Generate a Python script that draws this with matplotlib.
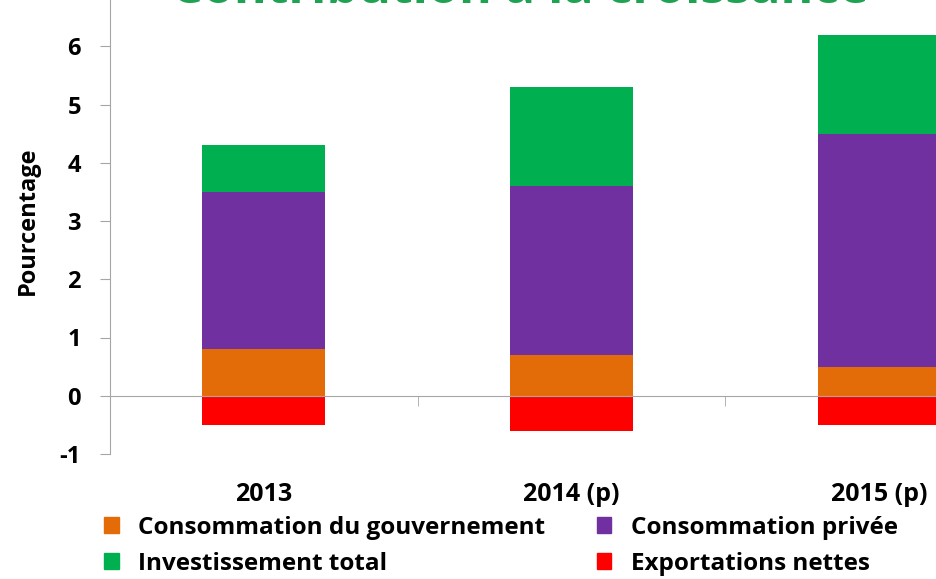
import matplotlib.pyplot as plt
from matplotlib.patches import Patch
import numpy as np

years = ['2013', '2014 (p)', '2015 (p)']
gouvernement = [0.8, 0.7, 0.5]
privee = [2.7, 2.9, 4.0]
investissement = [0.8, 1.7, 1.7]
exportations = [-0.5, -0.6, -0.5]

c_gov = '#E36C09'
c_priv = '#7030A0'
c_inv = '#00B050'
c_exp = '#FF0000'

plt.rcParams['font.family'] = ['Open Sans', 'DejaVu Sans']
plt.rcParams['font.weight'] = 'bold'
plt.rcParams['axes.unicode_minus'] = False

fig = plt.figure(figsize=(9.37, 5.79), dpi=100)
# the original is cropped: axes run off the right and top edges
ax = fig.add_axes([110 / 937, 125 / 579, 923 / 937, 466 / 579])

x = np.arange(len(years))
w = 0.4
gov = np.array(gouvernement)
priv = np.array(privee)
inv = np.array(investissement)
ax.bar(x, gov, w, color=c_gov)
ax.bar(x, priv, w, bottom=gov, color=c_priv)
ax.bar(x, inv, w, bottom=gov + priv, color=c_inv)
ax.bar(x, exportations, w, color=c_exp)

ax.set_xlim(-0.5, len(years) - 0.5)
ax.set_ylim(-1, 7)
ax.set_yticks(range(-1, 7))

for s in ['top', 'right']:
    ax.spines[s].set_visible(False)
ax.spines['left'].set_color('#A6A6A6')
ax.spines['bottom'].set_color('#A6A6A6')
ax.spines['bottom'].set_position(('data', 0))

ax.set_xticks(x)
ax.set_xticklabels(years)
ax.set_xticks(x[:-1] + 0.5, minor=True)
ax.tick_params(axis='x', which='major', length=0, pad=62, labelsize=18)
ax.tick_params(axis='x', which='minor', length=7, color='#A6A6A6', direction='out')
ax.tick_params(axis='y', length=7, color='#A6A6A6', pad=14, labelsize=17)

ax.set_ylabel('Pourcentage', fontsize=17, fontweight='bold', labelpad=14)

fig.text(0.555, 0.995, 'Contribution à la croissance', color='#1FA352',
         fontsize=36, fontweight='bold', ha='center', va='baseline')

handles = [Patch(color=c_gov, label='Consommation du gouvernement'),
           Patch(color=c_inv, label='Investissement total'),
           Patch(color=c_priv, label='Consommation privée'),
           Patch(color=c_exp, label='Exportations nettes')]
fig.legend(handles=handles, ncol=2, loc='lower left', bbox_to_anchor=(0.088, -0.032),
           frameon=False, fontsize=17.5, handlelength=0.6, handleheight=0.6,
           handletextpad=0.8, columnspacing=2.1, labelspacing=0.5)

fig.savefig('out.png', dpi=100)
